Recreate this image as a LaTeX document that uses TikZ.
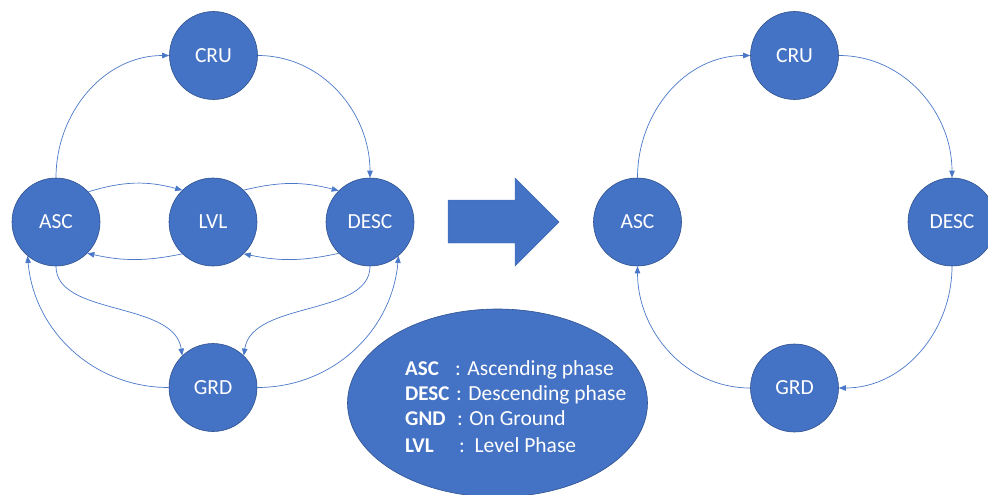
\documentclass[tikz,border=0pt]{standalone}
\usepackage{fontspec}
\setmainfont{Carlito}
\usetikzlibrary{arrows.meta,shapes.geometric}
\definecolor{blu}{HTML}{4472C4}
\definecolor{blud}{HTML}{2F528F}
\definecolor{lineblu}{HTML}{4A78C8}
\begin{document}
\begin{tikzpicture}[x=1pt,y=-1pt,
  state/.style={circle,fill=blu,draw=blud,line width=0.6pt,minimum size=88pt,inner sep=0pt,
    text=white,font=\fontsize{21.5}{25}\selectfont},
  conn/.style={draw=lineblu,line width=0.7pt,-{Triangle[length=7pt,width=5.5pt]}},
  leg/.style={anchor=base west,inner sep=0pt,text=white,font=\fontsize{21.5}{25}\selectfont},
  legb/.style={leg,font=\fontsize{21}{25}\selectfont\bfseries}]
\useasboundingbox (0,0) rectangle (988,495);
% left graph
\node[state] (cru) at (213.5,55.5) {CRU};
\node[state] (asc) at (56,222) {ASC};
\node[state] (lvl) at (213,222) {LVL};
\node[state] (desc) at (370,222) {DESC};
\node[state] (grd) at (213,387.5) {GRD};
\draw[conn] (asc.north) to[out=90,in=180] (cru.west);
\draw[conn] (cru.east) to[out=0,in=90] (desc.north);
\draw[conn] (asc.43) to[bend left=16] (lvl.134);
\draw[conn] (lvl.46) to[bend left=14] (desc.135);
\draw[conn] (lvl.226) to[bend left=12] (asc.-45);
\draw[conn] (desc.225) to[bend left=12] (lvl.-46);
\draw[conn] (asc.south) .. controls +(0,50) and +(-8,-55) .. (grd.134);
\draw[conn] (desc.south) .. controls +(0,50) and +(8,-55) .. (grd.46);
\draw[conn] (grd.west) to[out=180,in=-85] (asc.230);
\draw[conn] (grd.east) to[out=0,in=-95] (desc.310);
% block arrow
\fill[blu,draw=blu!90!black,line width=0.4pt] (448,200) -- (515,200) -- (515,178) -- (559,222)
  -- (515,266) -- (515,243) -- (448,243) -- cycle;
% legend
\node[ellipse,fill=blu,draw=blud,line width=0.6pt,minimum width=300pt,minimum height=188pt,inner sep=0pt] (legend) at (497.5,403) {};
\node[legb] (l1) at (405,375) {ASC};
\node[leg] (d1) at (455,375) {: Ascending phase};
\node[legb] (l2) at (405,400) {DESC};
\node[leg] (d2) at (456,400) {: Descending phase};
\node[legb] (l3) at (405,425.5) {GND};
\node[leg] (d3) at (457,425.5) {: On Ground};
\node[legb] (l4) at (405,452) {LVL};
\node[leg] (d4) at (459,452) {:\ \ Level Phase};
% right graph
\node[state] (rcru) at (794.5,55.5) {CRU};
\node[state] (rasc) at (637.5,222) {ASC};
\node[state] (rdesc) at (952,222) {DESC};
\node[state] (rgrd) at (794.5,388) {GRD};
\draw[conn] (rasc.north) to[out=90,in=180] (rcru.west);
\draw[conn] (rcru.east) to[out=0,in=90] (rdesc.north);
\draw[conn] (rdesc.south) to[out=-90,in=0] (rgrd.east);
\draw[conn] (rgrd.west) to[out=180,in=-90] (rasc.south);
\end{tikzpicture}
\end{document}
